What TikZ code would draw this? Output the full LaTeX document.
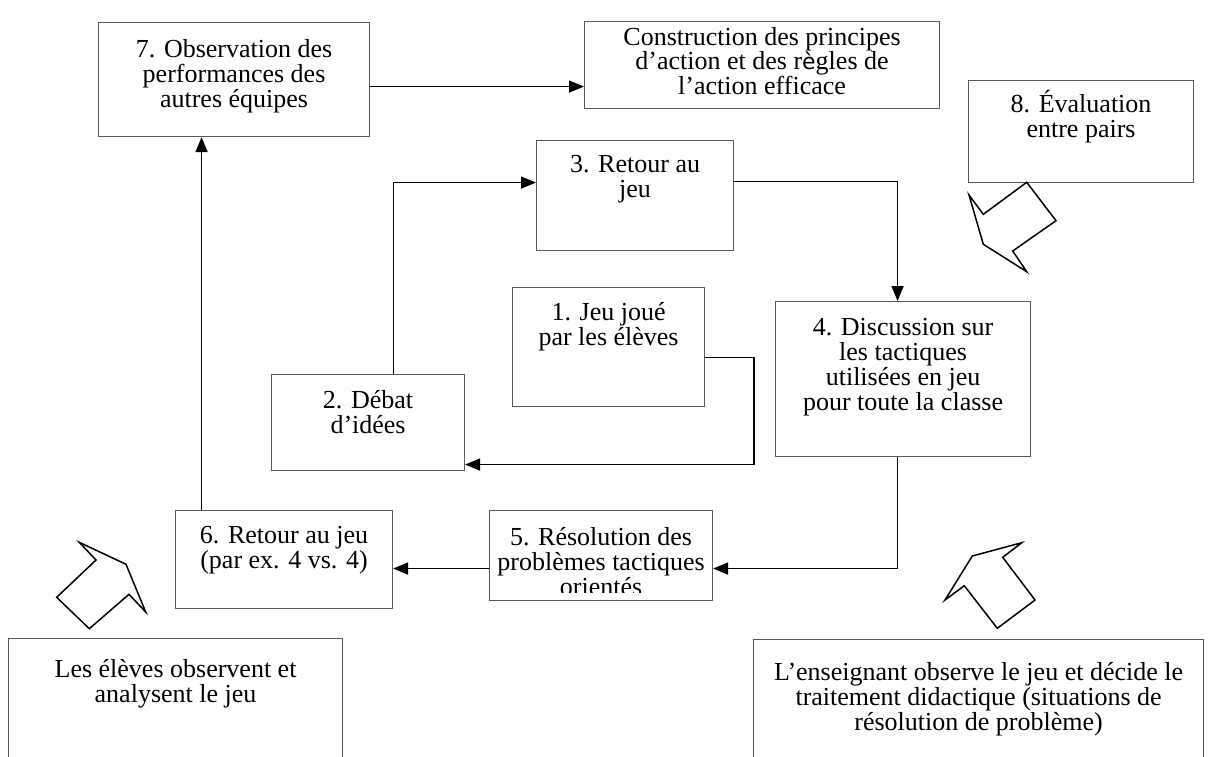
\documentclass[tikz,border=0pt]{standalone}
\usepackage{fontspec}
\setmainfont{Liberation Serif}
\newfontfamily\accsans{DejaVu Sans}
\usetikzlibrary{arrows.meta}
\newcommand\firstline{\rule{0pt}{24pt}}

\begin{document}
\begin{tikzpicture}[x=1pt,y=-1pt,
  box/.style={draw=black!65, line width=1.1pt, fill=white, inner sep=0pt, anchor=north west},
  label text/.style={anchor=north, inner sep=0pt, align=center, font=\fontsize{26}{25}\selectfont},
  conn/.style={draw=black, line width=1.7pt, -{Triangle[length=15pt,width=12pt]}},
  blockarrow/.style={draw=black, line width=1.5pt, fill=white, line join=miter}]
\useasboundingbox (0,0) rectangle (1213,756);
\clip (0,0) rectangle (1213,756);
\fill[white] (0,0) rectangle (1213,756);

% boxes
\node[box, minimum width=271, minimum height=114] (b7) at (98,22) {};
\node[box, minimum width=355, minimum height=87]  (bC) at (584,21) {};
\node[box, minimum width=225, minimum height=102] (b8) at (968,80) {};
\node[box, minimum width=197, minimum height=110] (b3) at (536,140) {};
\node[box, minimum width=192, minimum height=119] (b1) at (512,287) {};
\node[box, minimum width=255, minimum height=155] (b4) at (775,301) {};
\node[box, minimum width=193, minimum height=96]  (b2) at (271,374) {};
\node[box, minimum width=217, minimum height=98]  (b6) at (175,510) {};
\node[box, minimum width=223, minimum height=90]  (b5) at (489,510) {};
\node[box, minimum width=334, minimum height=140] (bL) at (8,638) {};
\node[box, minimum width=450, minimum height=140] (bR) at (753,639) {};

% texts
\node[label text] (t7) at ([yshift=-11pt]b7.north) {\firstline 7. Observation des\\performances des\\autres équipes};
\node[label text, font=\fontsize{26}{23.5}\selectfont] (tC) at ([yshift=0pt]bC.north)
  {\firstline Construction des principes\\d’action et des r{\accsans\fontsize{22}{23.5}\selectfont è}gles de\\l’action efficace};
\node[label text] (t8) at ([yshift=-8pt]b8.north) {\firstline 8. Évaluation\\entre pairs};
\node[label text] (t3) at ([yshift=-8pt]b3.north) {\firstline 3. Retour au\\jeu};
\node[label text] (t1) at ([yshift=-9pt]b1.north) {\firstline 1. Jeu joué\\par les élèves};
\node[label text] (t4) at ([yshift=-10pt]b4.north) {\firstline 4. Discussion sur\\les tactiques\\utilisées en jeu\\pour toute la classe};
\node[label text] (t2) at ([yshift=-10pt]b2.north) {\firstline 2. Débat\\d’idées};
\node[label text] (t6) at ([yshift=-9pt]b6.north) {\firstline 6. Retour au jeu\\(par ex. 4 vs. 4)};
% the last line of box 5 is cut off by the text frame
\begin{scope}
  \clip (b5.north west) rectangle ([yshift=9pt]b5.south east);
  \node[label text] (t5) at ([yshift=-11pt]b5.north) {\firstline 5. Résolution des\\problèmes tactiques\\orientés};
\end{scope}
\node[label text] (tL) at ([yshift=-15pt]bL.north) {\firstline Les élèves observent et\\analysent le jeu};
\node[label text] (tR) at ([yshift=-17pt]bR.north) {\firstline L’enseignant observe le jeu et décide le\\traitement didactique (situations de\\résolution de problème)};

% connectors
\draw[conn] ([yshift=-7pt]b7.east) -- ([yshift=-7pt]b7.east -| bC.west);
\draw[conn] ([xshift=25.5pt]b2.north) |- ([yshift=13pt]b3.west);
\draw[conn] ([yshift=14pt]b3.east) -| ([xshift=-5.5pt]b4.north);
\draw[conn] ([yshift=-10.5pt]b1.east) -- ++(49,0) |- ([yshift=-42pt]b2.east);
\draw[conn] ([xshift=-5.5pt]b4.south) |- ([yshift=-13pt]b5.east);
\draw[conn] ([yshift=-13pt]b5.west) -- ([yshift=-13pt]b5.west -| b6.east);
\draw[conn] ([xshift=-82.5pt]b6.north) -- ([xshift=-82.5pt]b6.north |- b7.south);

% hollow block arrows
\draw[blockarrow] (1026.7,182.3) -- (1056,220.7) -- (1012.7,251) -- (1026.7,271.7)
  -- (983.3,244.3) -- (969,195) -- (983.3,214.3) -- cycle;
\draw[blockarrow] (79.3,542.3) -- (96,560) -- (56.7,597.3) -- (89.3,628.7)
  -- (129,594.3) -- (145.7,612) -- (126,564.3) -- cycle;
\draw[blockarrow] (1021.7,542.7) -- (1002.7,557.3) -- (1035,600) -- (997.3,628.3)
  -- (964.3,585.7) -- (945,600) -- (972.3,556) -- cycle;
\end{tikzpicture}
\end{document}
